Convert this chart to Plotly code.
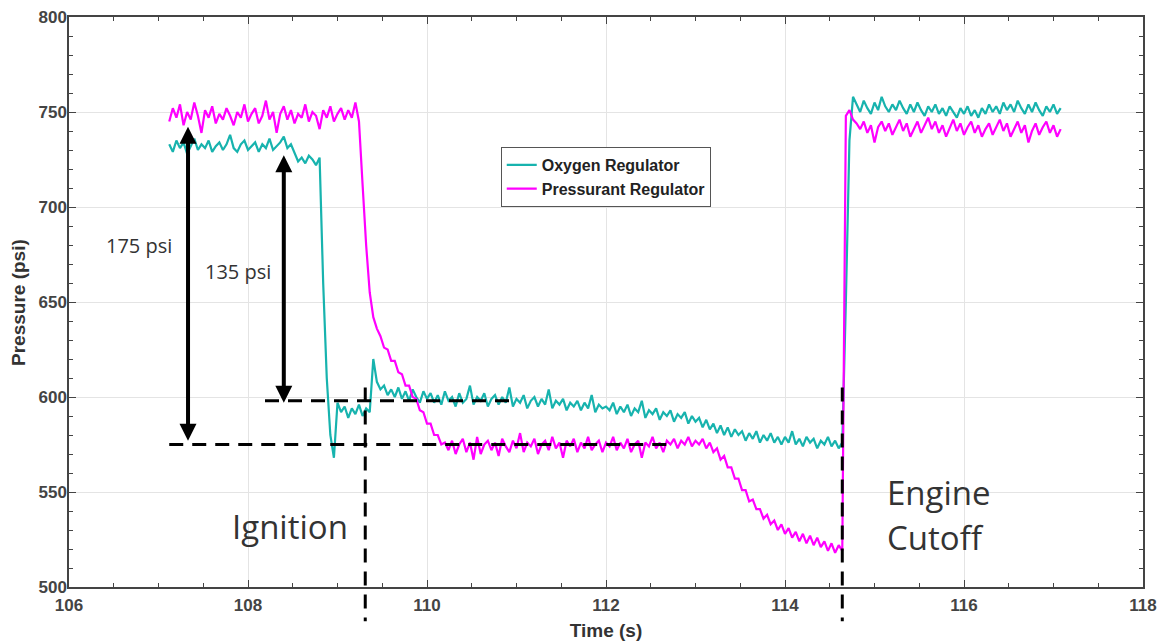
import plotly.graph_objects as go

# ---------------- data ----------------
T_START = 107.12   # first sample time (s)
T_STEP = 0.04      # sample spacing (s)

oxygen_psi = (
    [733, 729, 735, 731, 734, 728, 732, 736, 730, 733,
     731, 735, 729, 732, 734, 730, 733, 738, 731, 729,
     733, 735, 730, 732, 734, 729, 733, 731, 736, 730,
     732, 734, 737, 731, 733]
    + [728, 724, 726, 723, 727, 725, 722, 726]
    + [660, 610, 580, 568, 597, 592, 595, 589, 594, 591,
       596, 590, 594, 592, 620, 608, 604, 606, 601, 604,
       600, 605, 599, 603, 598, 604, 600, 597, 603, 599]
    + [602, 597, 601, 596, 603, 598, 600, 595, 602, 597,
       599, 606, 596, 600, 598, 602, 595, 599, 601, 596,
       600, 597, 605, 595, 599, 597, 601, 594, 598, 600,
       595, 599, 596, 604, 594, 598, 596, 599, 593, 597,
       595, 598, 593, 597, 594, 601, 592, 596, 594, 595]
    + [593, 597, 591, 595, 592, 596, 590, 594, 592, 598,
       589, 593, 591, 594, 588, 592, 590, 593, 587, 591,
       589, 592, 586, 590, 587]
    + [589, 584, 588, 583, 586, 581, 585, 580, 584, 579,
       583, 580, 582, 577, 581, 578, 582, 576, 580, 577,
       581, 576, 579, 575, 579, 576, 582, 575, 578, 574,
       579, 576, 578, 573, 577, 575, 579, 574, 577, 573,
       576]
    + [650, 735, 758]
    + [754, 750, 756, 752, 749, 755, 751, 758, 753, 750,
       754, 751, 756, 752, 749, 754, 750, 755, 751, 748,
       753, 750, 754, 749, 752, 748, 753, 750, 747, 752,
       749, 753, 748, 751, 747, 752, 749, 754, 750, 753,
       749, 755, 751, 754, 750, 756, 752, 749, 754, 750,
       755, 751, 748, 753, 750, 754, 749, 752]
)

pressurant_psi = (
    [745, 752, 747, 754, 743, 750, 746, 755, 748, 739,
     751, 747, 753, 744, 749, 746, 752, 748, 743, 750,
     747, 754, 745, 749, 752, 744, 748, 756, 746, 750,
     739, 749, 753, 746, 751, 744, 749, 747, 754, 745,
     750, 748, 741, 751, 747, 753, 745, 749, 752, 746,
     751, 747, 755]
    + [745, 712, 680, 655, 642, 636, 632, 626, 625, 619,
       619, 613, 612, 606, 606, 600, 599, 593, 592, 586,
       586, 580, 580, 575, 576]
    + [572, 577, 570, 575, 578, 571, 576, 567, 579, 570,
       575, 577, 572, 576, 569, 578, 574, 571, 577, 573,
       581, 571, 576, 574, 578, 570, 575, 577, 572, 579,
       573, 576, 568, 577, 574, 578, 571, 576, 573, 579,
       572, 575, 577, 571, 576, 574, 579, 572, 576, 573,
       578, 571, 575, 577, 568, 576, 574, 579, 573, 576,
       571, 577, 575, 578, 573, 577, 575, 579, 574]
    + [577, 575, 578, 573, 576, 571, 573, 567, 569, 563,
       563, 557, 557, 551, 551, 545, 546, 541, 541, 536,
       538, 533, 535, 530, 533, 528, 531, 526, 529, 524,
       528, 523, 527, 522, 526, 521, 524, 519, 523, 518,
       522, 519]
    + [748, 751]
    + [746, 744, 741, 745, 739, 743, 734, 742, 745, 740,
       744, 738, 742, 746, 740, 744, 737, 741, 745, 739,
       743, 747, 741, 745, 739, 743, 737, 742, 746, 740,
       744, 738, 742, 745, 739, 743, 737, 741, 744, 738,
       742, 746, 740, 744, 737, 741, 745, 739, 743, 734,
       740, 744, 738, 742, 745, 739, 743, 737, 741]
)

series_names = ["Oxygen Regulator", "Pressurant Regulator"]
series_colors = ["#17b3ae", "#ff00ff"]

# annotation values (time in s, pressure in psi)
arrow_time = [107.33, 108.40]
arrow_top_psi = [743, 728]
arrow_bottom_psi = [577, 597]
arrow_labels = ["175 psi", "135 psi"]
arrow_label_time = [106.78, 107.89]
arrow_label_psi = [680, 666]

hline_psi = [575, 598]
hline_start = [107.12, 108.19]
hline_end = [112.72, 110.92]

event_time = [109.31, 114.64]
event_top_psi = [605, 605]
event_bottom_psi = [482, 482]

event_texts = ["Ignition", "Engine", "Cutoff"]
event_text_time = [108.47, 115.12, 115.12]
event_text_psi = [532, 550, 526]

X_RANGE = [106, 118]
Y_RANGE = [500, 800]
X_TITLE = "Time (s)"
Y_TITLE = "Pressure (psi)"


def times(values):
    return [round(T_START + T_STEP * i, 2) for i in range(len(values))]


fig = go.Figure()
for name, vals, col in zip(series_names, [oxygen_psi, pressurant_psi], series_colors):
    fig.add_trace(go.Scatter(x=times(vals), y=vals, mode="lines", name=name,
                             line=dict(color=col, width=2.2)))


def psi_to_paper(p):
    return (p - Y_RANGE[0]) / (Y_RANGE[1] - Y_RANGE[0])


dash = "14px,9px"
for y, x0, x1 in zip(hline_psi, hline_start, hline_end):
    fig.add_shape(type="line", xref="x", yref="y", x0=x0, x1=x1, y0=y, y1=y,
                  line=dict(color="black", width=3, dash=dash), layer="above")
for x, top, bot in zip(event_time, event_top_psi, event_bottom_psi):
    fig.add_shape(type="line", xref="x", yref="paper", x0=x, x1=x,
                  y0=psi_to_paper(top), y1=psi_to_paper(bot),
                  line=dict(color="black", width=3, dash=dash), layer="above")

for x, top, bot in zip(arrow_time, arrow_top_psi, arrow_bottom_psi):
    fig.add_annotation(x=x, y=bot, ax=x, ay=top, xref="x", yref="y", axref="x", ayref="y",
                       text="", showarrow=True, arrowhead=2, startarrowhead=2,
                       arrowside="end+start", arrowwidth=4, arrowsize=0.85,
                       startarrowsize=0.85, arrowcolor="black", standoff=0, startstandoff=0)

for txt, x, y in zip(arrow_labels, arrow_label_time, arrow_label_psi):
    fig.add_annotation(x=x, y=y, text=txt, showarrow=False, xanchor="center", yanchor="middle",
                       font=dict(family="Open Sans", size=20, color="#333333"))

for i, (txt, x, y) in enumerate(zip(event_texts, event_text_time, event_text_psi)):
    fig.add_annotation(x=x, y=y, text=txt, showarrow=False,
                       xanchor="center" if i == 0 else "left", yanchor="middle",
                       font=dict(family="Open Sans", size=33, color="#333333"))

title_font = dict(family="Liberation Sans", size=19, color="#333333", weight="bold")

# y-axis title placed as rotated text (closer to the edge than the axis title allows)
fig.add_annotation(x=-0.0475, y=0.5, xref="paper", yref="paper", text=Y_TITLE,
                   textangle=-90, showarrow=False, xanchor="center", yanchor="middle",
                   font=title_font)

axis_common = dict(
    showline=True, linecolor="#444444", linewidth=1.5, mirror="ticks",
    ticks="inside", ticklen=7, tickcolor="#444444", tickwidth=1.2,
    showgrid=True, gridcolor="#e4e4e4", gridwidth=1, zeroline=False,
    automargin=False, ticklabeloverflow="allow",
    tickfont=dict(family="Liberation Sans", size=17, color="#444444", weight="bold"),
)

fig.update_xaxes(range=X_RANGE, dtick=2, tick0=106, ticklabelstandoff=2,
                 minor=dict(dtick=0.5, ticks="inside", ticklen=4, tickcolor="#444444", showgrid=False),
                 title=dict(text=X_TITLE, standoff=10, font=title_font),
                 **axis_common)
fig.update_yaxes(range=Y_RANGE, dtick=50, tick0=500, ticklabelstandoff=-3,
                 minor=dict(dtick=10, ticks="inside", ticklen=4, tickcolor="#444444", showgrid=False),
                 **axis_common)

# the page body adds an 8px offset, so the figure is sized to fit inside the window
fig.update_layout(
    width=1162, height=636,
    margin=dict(l=61, r=27, t=9, b=57),
    plot_bgcolor="white", paper_bgcolor="white",
    showlegend=True,
    legend=dict(x=0.402, y=0.772, xanchor="left", yanchor="top",
                bgcolor="white", bordercolor="#555555", borderwidth=1,
                itemwidth=30, tracegroupgap=0,
                font=dict(family="Liberation Sans", size=16, color="#222222", weight="bold")),
)

fig.write_html("out.html")
